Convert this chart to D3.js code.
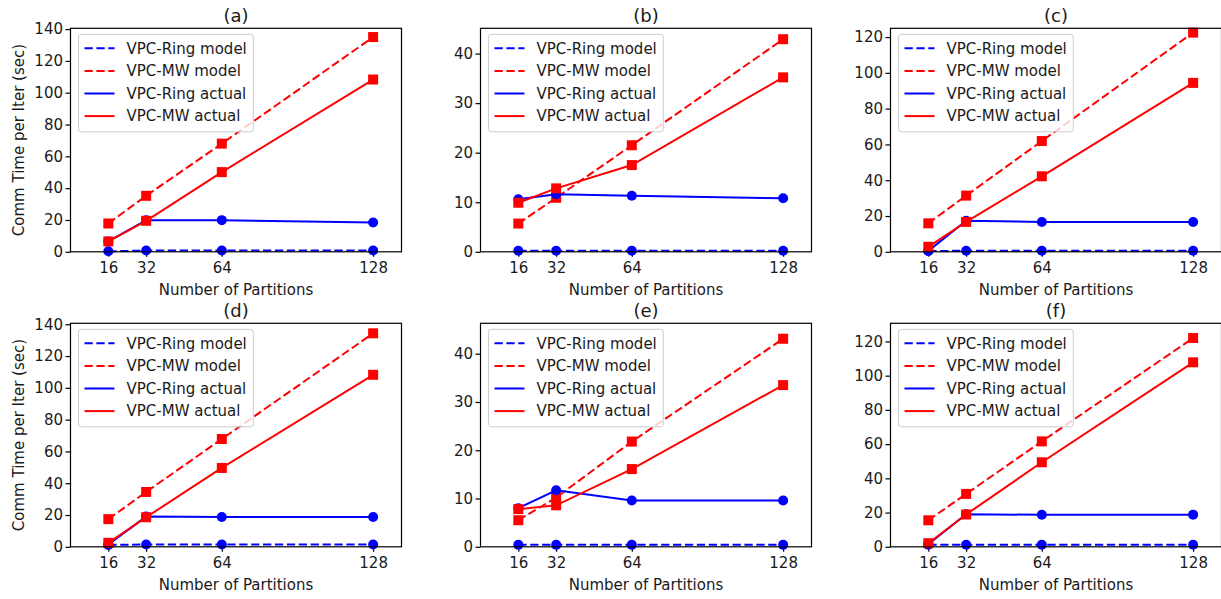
<!DOCTYPE html>
<html>
<head>
<meta charset="utf-8">
<script src="https://cdn.jsdelivr.net/npm/d3@7"></script>
<style>
  html, body { margin: 0; padding: 0; background: #fff; }
  svg { display: block; }
  text { font-family: "DejaVu Sans", sans-serif; fill: #1a1a1a; }
</style>
</head>
<body>
<svg id="chart" width="1221" height="599"></svg>
<script>
// ---------------- data ----------------
const partitions = [16, 32, 64, 128];
const panelTitles = ["(a)", "(b)", "(c)", "(d)", "(e)", "(f)"];
const seriesNames = ["VPC-Ring model", "VPC-MW model", "VPC-Ring actual", "VPC-MW actual"];

// one row per panel (a..f), one value per partition count
const ringModel = [
  [0.3, 0.8, 0.8, 0.8],
  [0.2, 0.2, 0.2, 0.2],
  [0.4, 0.6, 0.6, 0.6],
  [1.2, 1.4, 1.4, 1.4],
  [0.4, 0.4, 0.4, 0.4],
  [1.2, 1.2, 1.2, 1.2]
];
const mwModel = [
  [17.8, 35.2, 68.0, 135.0],
  [5.7, 10.9, 21.5, 42.9],
  [15.9, 31.4, 61.9, 122.5],
  [17.4, 34.5, 67.8, 134.3],
  [5.5, 10.2, 21.8, 43.1],
  [15.5, 30.9, 61.6, 122.0]
];
const ringActual = [
  [6.5, 19.8, 19.9, 18.4],
  [10.6, 11.6, 11.3, 10.8],
  [0.5, 17.4, 16.7, 16.7],
  [1.5, 19.0, 18.8, 18.8],
  [8.0, 11.7, 9.6, 9.6],
  [1.5, 19.0, 18.7, 18.8]
];
const mwActual = [
  [6.5, 19.5, 50.1, 108.3],
  [9.9, 12.8, 17.5, 35.2],
  [2.8, 16.7, 42.2, 94.4],
  [2.5, 18.6, 49.6, 108.2],
  [7.8, 8.6, 16.1, 33.5],
  [2.1, 18.9, 49.4, 107.8]
];
const yMaxes = [140.5, 45.1, 124.9, 140.6, 46.3, 130.6];
const yTickSets = [
  [0, 20, 40, 60, 80, 100, 120, 140],
  [0, 10, 20, 30, 40],
  [0, 20, 40, 60, 80, 100, 120],
  [0, 20, 40, 60, 80, 100, 120, 140],
  [0, 10, 20, 30, 40],
  [0, 20, 40, 60, 80, 100, 120]
];
const xDomain = [0, 140];
const xLabel = "Number of Partitions";
const yLabel = "Comm Time per Iter (sec)";

// ---------------- layout / style ----------------
const colLeft = [70.5, 480.5, 890.5];
const rowTop = [28.3, 323.3];
const plotW = 331;
const plotH = 223.5;
const BLUE = "#0000ff", RED = "#ff0000";
const seriesStyle = [
  { data: ringModel, color: BLUE, dash: "8.3,3.6", marker: "circle" },
  { data: mwModel, color: RED, dash: "8.3,3.6", marker: "square" },
  { data: ringActual, color: BLUE, dash: null, marker: "circle" },
  { data: mwActual, color: RED, dash: null, marker: "square" }
];

const svg = d3.select("#chart");

panelTitles.forEach((title, p) => {
  const col = p % 3, row = Math.floor(p / 3);
  const left = colLeft[col], top = rowTop[row];
  const x = d3.scaleLinear().domain(xDomain).range([left, left + plotW]);
  const y = d3.scaleLinear().domain([0, yMaxes[p]]).range([top + plotH, top]);
  const g = svg.append("g");

  // clip for plot area
  const clipId = "clip" + p;
  svg.append("clipPath").attr("id", clipId)
    .append("rect").attr("x", left).attr("y", top - 8).attr("width", plotW).attr("height", plotH + 16);

  // axes
  const xAxis = d3.axisBottom(x).tickValues(partitions).tickSize(5).tickPadding(6).tickSizeOuter(0);
  const gx = g.append("g").attr("transform", `translate(0,${top + plotH})`).call(xAxis);
  const yAxis = d3.axisLeft(y).tickValues(yTickSets[p]).tickSize(5).tickPadding(2.5).tickSizeOuter(0);
  const gy = g.append("g").attr("transform", `translate(${left},0)`).call(yAxis);
  [gx, gy].forEach(a => {
    a.select(".domain").remove();
    a.selectAll(".tick line").attr("stroke", "#000").attr("stroke-width", 1.2);
    a.selectAll(".tick text").attr("font-family", "DejaVu Sans").attr("font-size", 15).attr("fill", "#1a1a1a");
  });

  // series
  const plotG = g.append("g").attr("clip-path", `url(#${clipId})`);
  const line = d3.line().x((d, i) => x(partitions[i])).y(d => y(d));
  seriesStyle.forEach(s => {
    const vals = s.data[p];
    plotG.append("path").attr("d", line(vals))
      .attr("fill", "none").attr("stroke", s.color).attr("stroke-width", 2)
      .attr("stroke-dasharray", s.dash);
    if (s.marker === "circle") {
      plotG.selectAll(null).data(vals).enter().append("circle")
        .attr("cx", (d, i) => x(partitions[i])).attr("cy", d => y(d))
        .attr("r", 5).attr("fill", s.color);
    } else {
      plotG.selectAll(null).data(vals).enter().append("rect")
        .attr("x", (d, i) => x(partitions[i]) - 5).attr("y", d => y(d) - 5)
        .attr("width", 10).attr("height", 10).attr("fill", s.color);
    }
  });

  // frame
  g.append("rect").attr("x", left).attr("y", top).attr("width", plotW).attr("height", plotH)
    .attr("fill", "none").attr("stroke", "#000").attr("stroke-width", 1.2);

  // legend
  const lg = g.append("g");
  const bx = left + 8, by = top + 6;
  const box = lg.append("rect").attr("x", bx).attr("y", by).attr("rx", 3).attr("ry", 3)
    .attr("height", 97.5).attr("fill", "#fff").attr("fill-opacity", 0.8)
    .attr("stroke", "#cccccc").attr("stroke-width", 1);
  let maxLen = 0;
  seriesNames.forEach((name, i) => {
    const cy = by + 14 + i * 22.6;
    lg.append("line").attr("x1", bx + 6).attr("x2", bx + 36).attr("y1", cy).attr("y2", cy)
      .attr("stroke", seriesStyle[i].color).attr("stroke-width", 2)
      .attr("stroke-dasharray", seriesStyle[i].dash);
    const t = lg.append("text").attr("x", bx + 48).attr("y", cy).attr("dy", "0.35em")
      .attr("font-size", 15).text(name);
    maxLen = Math.max(maxLen, t.node().getComputedTextLength());
  });
  box.attr("width", 48 + maxLen + 6.5);

  // title and labels
  g.append("text").attr("x", left + plotW / 2).attr("y", top - 13).attr("dy", "0.35em")
    .attr("text-anchor", "middle").attr("font-size", 18).text(title);
  g.append("text").attr("x", left + plotW / 2).attr("y", top + plotH + 38).attr("dy", "0.35em")
    .attr("text-anchor", "middle").attr("font-size", 15).text(xLabel);
  if (col === 0) {
    g.append("text").attr("transform", `translate(18.3,${top + plotH / 2}) rotate(-90)`)
      .attr("dy", "0.35em").attr("text-anchor", "middle").attr("font-size", 15).text(yLabel);
  }
});
</script>
</body>
</html>
